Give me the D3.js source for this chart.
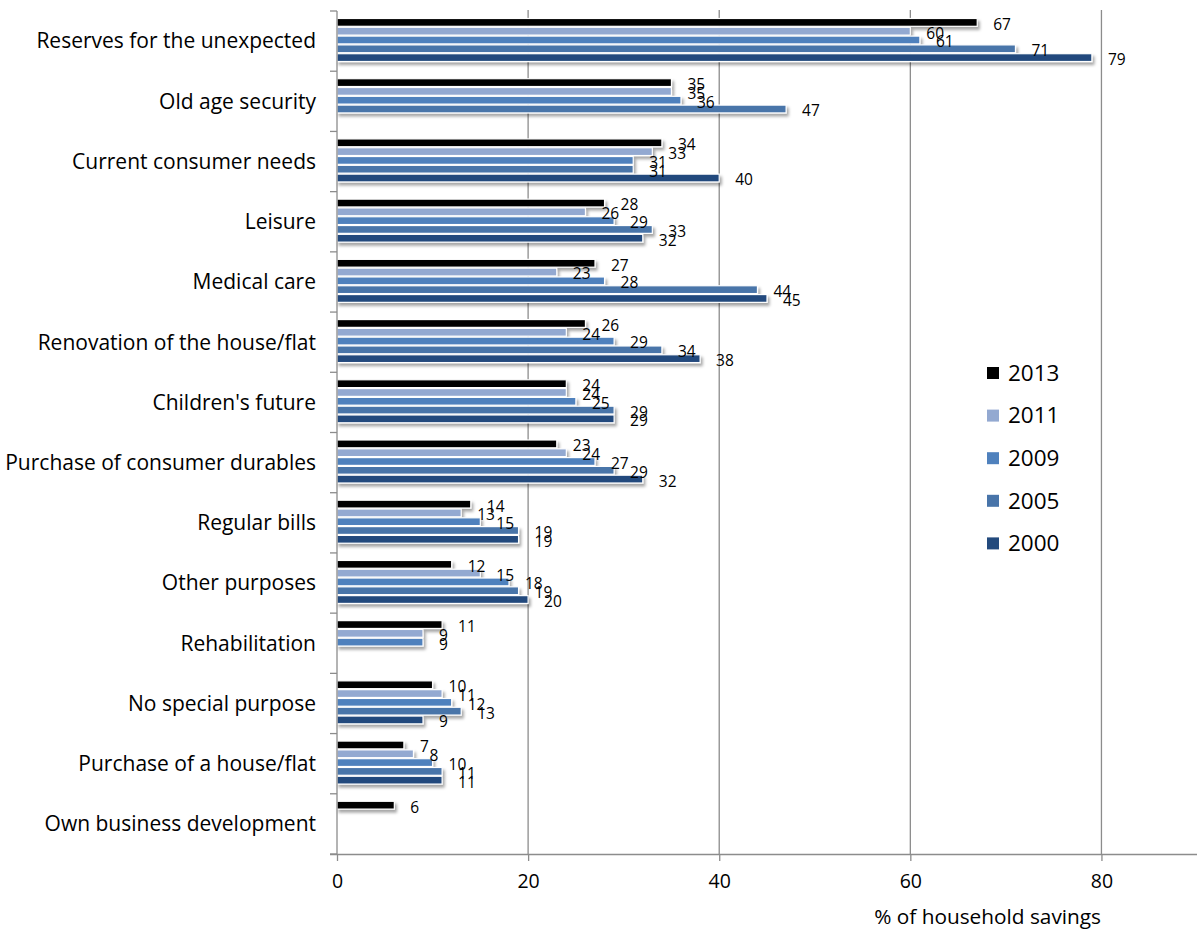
<!DOCTYPE html>
<html>
<head>
<meta charset="utf-8">
<script src="https://cdn.jsdelivr.net/npm/d3@7"></script>
<style>
  html, body { margin: 0; padding: 0; background: #fff; }
  svg { display: block; font-family: "Open Sans", Lato, sans-serif; }
</style>
</head>
<body>
<svg id="chart" width="1198" height="936"></svg>
<script>
// Purposes of household savings, share of households by survey year
const categories = [
  "Reserves for the unexpected",
  "Old age security",
  "Current consumer needs",
  "Leisure",
  "Medical care",
  "Renovation of the house/flat",
  "Children's future",
  "Purchase of consumer durables",
  "Regular bills",
  "Other purposes",
  "Rehabilitation",
  "No special purpose",
  "Purchase of a house/flat",
  "Own business development"
];
const years = ["2013", "2011", "2009", "2005", "2000"];
const values2013 = [67, 35, 34, 28, 27, 26, 24, 23, 14, 12, 11, 10, 7, 6];
const values2011 = [60, 35, 33, 26, 23, 24, 24, 24, 13, 15, 9, 11, 8, null];
const values2009 = [61, 36, 31, 29, 28, 29, 25, 27, 15, 18, 9, 12, 10, null];
const values2005 = [71, 47, 31, 33, 44, 34, 29, 29, 19, 19, null, 13, 11, null];
const values2000 = [79, null, 40, 32, 45, 38, 29, 32, 19, 20, null, 9, 11, null];
const xTicks = [0, 20, 40, 60, 80];
const xTitle = "% of household savings";

const seriesValues = [values2013, values2011, values2009, values2005, values2000];
const colors = ["#000000", "#93a9d1", "#4f81bd", "#4874a9", "#234a7d"];

const svg = d3.select("#chart");

const x = d3.scaleLinear().domain([0, 90]).range([337, 1197]);
const y = d3.scaleBand().domain(categories).range([11, 854]);
const inner = d3.scaleBand().domain(years).range([7, 51]);

// soft drop shadow under the bars
const defs = svg.append("defs");
const f = defs.append("filter").attr("id", "shadow")
  .attr("x", "-10%").attr("y", "-60%").attr("width", "130%").attr("height", "260%");
f.append("feDropShadow").attr("dx", 2).attr("dy", 3).attr("stdDeviation", 1.8)
  .attr("flood-color", "#000").attr("flood-opacity", 0.35);

// vertical gridlines
svg.append("g").selectAll("line").data(xTicks.filter(d => d > 0)).join("line")
  .attr("x1", d => x(d)).attr("x2", d => x(d))
  .attr("y1", 10).attr("y2", 854)
  .attr("stroke", "#8c8c8c").attr("stroke-width", 1.3);

// bars
const rows = [];
categories.forEach((c, i) => {
  years.forEach((yr, j) => {
    const v = seriesValues[j][i];
    if (v != null) rows.push({ cat: c, year: yr, value: v, color: colors[j] });
  });
});

const barG = svg.append("g");
barG.selectAll("rect").data(rows).join("rect")
  .attr("x", x(0))
  .attr("y", d => y(d.cat) + inner(d.year) + 0.5)
  .attr("width", d => x(d.value) - x(0))
  .attr("height", inner.bandwidth() - 1)
  .attr("fill", d => d.color)
  .attr("stroke", "#fff").attr("stroke-width", 1.2)
  .attr("filter", "url(#shadow)");

// value labels
svg.append("g").selectAll("text").data(rows).join("text")
  .attr("x", d => x(d.value) + 16)
  .attr("y", d => y(d.cat) + inner(d.year) + inner.bandwidth() / 2 + 2)
  .attr("dy", "0.35em")
  .attr("font-size", 15.5)
  .attr("fill", "#000")
  .text(d => d.value);

// y axis (category boundaries as ticks)
const yAxisG = svg.append("g");
yAxisG.append("line").attr("x1", 337).attr("x2", 337).attr("y1", 11).attr("y2", 854)
  .attr("stroke", "#8c8c8c").attr("stroke-width", 1.3);
const bounds = categories.map(c => y(c)).concat([854]);
yAxisG.selectAll("line.tick").data(bounds).join("line").attr("class", "tick")
  .attr("x1", 330).attr("x2", 337).attr("y1", d => d).attr("y2", d => d)
  .attr("stroke", "#8c8c8c").attr("stroke-width", 1.3);
yAxisG.selectAll("text").data(categories).join("text")
  .attr("x", 316)
  .attr("y", d => y(d) + y.bandwidth() / 2)
  .attr("dy", "0.35em")
  .attr("text-anchor", "end")
  .attr("font-size", 21)
  .attr("fill", "#000")
  .text(d => d);

// x axis
const xAxis = d3.axisBottom(x).tickValues(xTicks).tickSize(7).tickPadding(13);
const xAxisG = svg.append("g").attr("transform", "translate(0,854)").call(xAxis);
xAxisG.select(".domain").attr("d", `M330,0.5H1197`).attr("stroke", "#8c8c8c").attr("stroke-width", 1.3);
xAxisG.selectAll(".tick line").attr("stroke", "#8c8c8c").attr("stroke-width", 1.3);
xAxisG.selectAll(".tick text").attr("font-size", 19.5).attr("fill", "#000")
  .attr("font-family", "'Open Sans', Lato, sans-serif");

svg.append("text").attr("x", 1101).attr("y", 917).attr("dy", "0.35em")
  .attr("text-anchor", "end").attr("font-size", 20.8).text(xTitle);

// legend
const legend = svg.append("g");
years.forEach((yr, j) => {
  const ly = 373 + j * 42.6;
  legend.append("rect").attr("x", 987).attr("y", ly - 6).attr("width", 12).attr("height", 12)
    .attr("fill", colors[j]);
  legend.append("text").attr("x", 1008).attr("y", ly).attr("dy", "0.35em")
    .attr("font-size", 22.5).text(yr);
});
</script>
</body>
</html>
